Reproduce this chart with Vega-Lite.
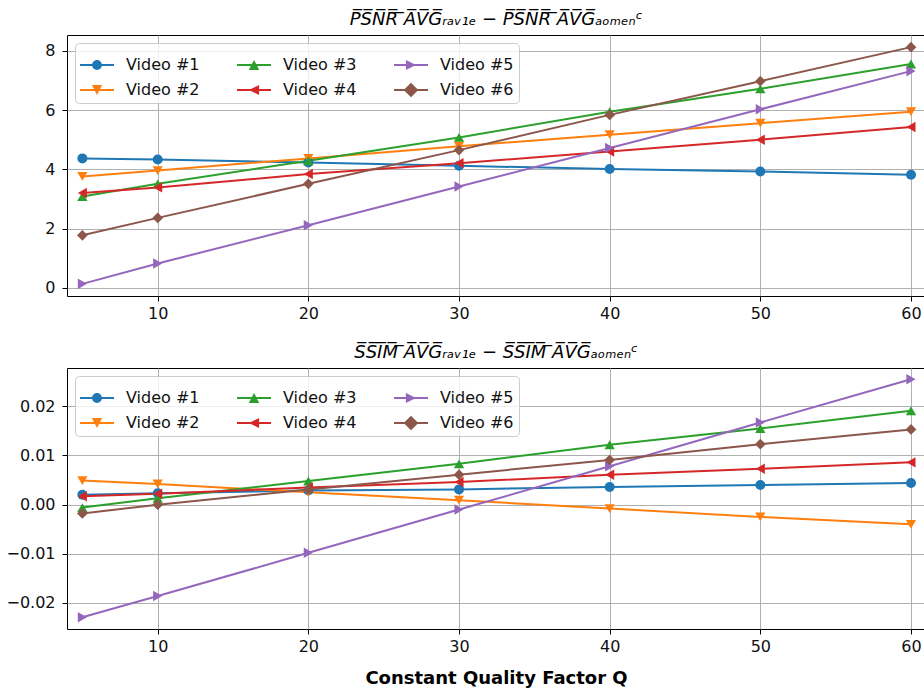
{
  "$schema": "https://vega.github.io/schema/vega-lite/v6.json",
  "background": "white",
  "padding": {"left": 5, "top": 10, "right": 0, "bottom": 0},
  "spacing": 21,
  "config": {
    "view": {"stroke": "#000000", "strokeWidth": 1},
    "axis": {
      "labelFont": "DejaVu Sans", "labelFontSize": 16, "labelColor": "#111111",
      "tickColor": "#000000", "tickSize": 5, "tickWidth": 1, "domain": false,
      "gridColor": "#b0b0b0", "gridWidth": 1, "labelFlush": false, "labelOverlap": false,
      "titleFont": "DejaVu Sans", "titleFontSize": 18, "titleFontWeight": "bold", "titleColor": "#000000"
    },
    "legend": {
      "orient": "top-left", "offset": 8, "columns": 3, "title": null,
      "labelFont": "DejaVu Sans", "labelFontSize": 16, "labelColor": "#111111",
      "symbolSize": 1156, "symbolStrokeWidth": 0, "labelOffset": 12,
      "columnPadding": 37, "rowPadding": 0, "padding": 5,
      "fillColor": "rgba(255,255,255,0.8)", "strokeColor": "#cccccc", "cornerRadius": 4
    },
    "title": {"font": "DejaVu Sans", "fontSize": 18, "fontStyle": "italic", "fontWeight": "normal", "color": "#000000", "frame": "group", "anchor": "middle", "baseline": "alphabetic", "offset": 6}
  },
  "data": {"values": [
    {"q": 5, "video": "Video #1", "psnr": 4.37, "ssim": 0.0020},
    {"q": 10, "video": "Video #1", "psnr": 4.33, "ssim": 0.0023},
    {"q": 20, "video": "Video #1", "psnr": 4.23, "ssim": 0.0029},
    {"q": 30, "video": "Video #1", "psnr": 4.12, "ssim": 0.0031},
    {"q": 40, "video": "Video #1", "psnr": 4.01, "ssim": 0.0036},
    {"q": 50, "video": "Video #1", "psnr": 3.93, "ssim": 0.0040},
    {"q": 60, "video": "Video #1", "psnr": 3.82, "ssim": 0.0044},
    {"q": 5, "video": "Video #2", "psnr": 3.76, "ssim": 0.0049},
    {"q": 10, "video": "Video #2", "psnr": 3.96, "ssim": 0.0042},
    {"q": 20, "video": "Video #2", "psnr": 4.37, "ssim": 0.0025},
    {"q": 30, "video": "Video #2", "psnr": 4.78, "ssim": 0.0009},
    {"q": 40, "video": "Video #2", "psnr": 5.17, "ssim": -0.0008},
    {"q": 50, "video": "Video #2", "psnr": 5.56, "ssim": -0.0025},
    {"q": 60, "video": "Video #2", "psnr": 5.95, "ssim": -0.0040},
    {"q": 5, "video": "Video #3", "psnr": 3.08, "ssim": -0.0006},
    {"q": 10, "video": "Video #3", "psnr": 3.51, "ssim": 0.0013},
    {"q": 20, "video": "Video #3", "psnr": 4.29, "ssim": 0.0048},
    {"q": 30, "video": "Video #3", "psnr": 5.08, "ssim": 0.0083},
    {"q": 40, "video": "Video #3", "psnr": 5.95, "ssim": 0.0122},
    {"q": 50, "video": "Video #3", "psnr": 6.72, "ssim": 0.0155},
    {"q": 60, "video": "Video #3", "psnr": 7.56, "ssim": 0.0191},
    {"q": 5, "video": "Video #4", "psnr": 3.20, "ssim": 0.0017},
    {"q": 10, "video": "Video #4", "psnr": 3.39, "ssim": 0.0022},
    {"q": 20, "video": "Video #4", "psnr": 3.84, "ssim": 0.0035},
    {"q": 30, "video": "Video #4", "psnr": 4.21, "ssim": 0.0046},
    {"q": 40, "video": "Video #4", "psnr": 4.60, "ssim": 0.0061},
    {"q": 50, "video": "Video #4", "psnr": 5.00, "ssim": 0.0073},
    {"q": 60, "video": "Video #4", "psnr": 5.43, "ssim": 0.0086},
    {"q": 5, "video": "Video #5", "psnr": 0.13, "ssim": -0.0229},
    {"q": 10, "video": "Video #5", "psnr": 0.82, "ssim": -0.0186},
    {"q": 20, "video": "Video #5", "psnr": 2.11, "ssim": -0.0098},
    {"q": 30, "video": "Video #5", "psnr": 3.42, "ssim": -0.0010},
    {"q": 40, "video": "Video #5", "psnr": 4.72, "ssim": 0.0078},
    {"q": 50, "video": "Video #5", "psnr": 6.03, "ssim": 0.0167},
    {"q": 60, "video": "Video #5", "psnr": 7.32, "ssim": 0.0255},
    {"q": 5, "video": "Video #6", "psnr": 1.77, "ssim": -0.0018},
    {"q": 10, "video": "Video #6", "psnr": 2.36, "ssim": 0.0000},
    {"q": 20, "video": "Video #6", "psnr": 3.51, "ssim": 0.0031},
    {"q": 30, "video": "Video #6", "psnr": 4.65, "ssim": 0.0061},
    {"q": 40, "video": "Video #6", "psnr": 5.84, "ssim": 0.0091},
    {"q": 50, "video": "Video #6", "psnr": 6.98, "ssim": 0.0123},
    {"q": 60, "video": "Video #6", "psnr": 8.13, "ssim": 0.0153}
  ]},
  "vconcat": [
    {
      "width": 858, "height": 261,
      "title": {"text": "P\u0305S\u0305N\u0305R\u0305 \u0305A\u0305V\u0305G\u0305\u1d63\u2090\u1d65\u2081\u2091 \u2212 P\u0305S\u0305N\u0305R\u0305 \u0305A\u0305V\u0305G\u0305\u2090\u2092\u2098\u2091\u2099\u1d9c"},
      "resolve": {"scale": {"color": "independent", "shape": "independent", "size": "independent"}},
      "layer": [
        {
          "mark": {"type": "line", "strokeWidth": 2, "clip": true},
          "encoding": {
            "x": {"field": "q", "type": "quantitative", "scale": {"domain": [3.98, 60.93], "nice": false, "zero": false}, "axis": {"title": null, "values": [10, 20, 30, 40, 50, 60], "labelPadding": 4}},
            "y": {"field": "psnr", "type": "quantitative", "scale": {"domain": [-0.28, 8.54], "nice": false, "zero": false}, "axis": {"title": null, "values": [0, 2, 4, 6, 8], "format": "d", "labelPadding": 7}},
            "color": {"field": "video", "type": "nominal", "scale": {"domain": ["Video #1", "Video #2", "Video #3", "Video #4", "Video #5", "Video #6"], "range": ["#1f77b4", "#ff7f0e", "#2ca02c", "#d62728", "#9467bd", "#8c564b"]}, "legend": null}
          }
        },
        {
          "mark": {"type": "point", "filled": true, "opacity": 1, "clip": true},
          "encoding": {
            "x": {"field": "q", "type": "quantitative"},
            "y": {"field": "psnr", "type": "quantitative"},
            "color": {"field": "video", "type": "nominal", "scale": {"domain": ["Video #1", "Video #2", "Video #3", "Video #4", "Video #5", "Video #6"], "range": ["#1f77b4", "#ff7f0e", "#2ca02c", "#d62728", "#9467bd", "#8c564b"]}, "legend": null},
            "shape": {"field": "video", "type": "nominal", "scale": {"domain": ["Video #1", "Video #2", "Video #3", "Video #4", "Video #5", "Video #6"], "range": ["circle", "triangle-down", "triangle-up", "triangle-left", "triangle-right", "diamond"]}, "legend": null},
            "size": {"field": "video", "type": "nominal", "scale": {"domain": ["Video #1", "Video #2", "Video #3", "Video #4", "Video #5", "Video #6"], "range": [100, 115, 115, 115, 115, 210]}, "legend": null}
          }
        },
        {
          "transform": [{"filter": "datum.q < 0"}],
          "mark": {"type": "point", "filled": true, "opacity": 1},
          "encoding": {
            "x": {"field": "q", "type": "quantitative"},
            "y": {"field": "psnr", "type": "quantitative"},
            "color": {"field": "video", "type": "nominal", "scale": {"domain": ["Video #1", "Video #2", "Video #3", "Video #4", "Video #5", "Video #6"], "range": ["#1f77b4", "#ff7f0e", "#2ca02c", "#d62728", "#9467bd", "#8c564b"]}, "legend": {"title": null}},
            "shape": {"field": "video", "type": "nominal", "scale": {"domain": ["Video #1", "Video #2", "Video #3", "Video #4", "Video #5", "Video #6"], "range": [
              "M-1,-0.06H1V0.06H-1ZM-0.29,0A0.29,0.29 0 1,1 0.29,0A0.29,0.29 0 1,1 -0.29,0Z",
              "M-1,-0.06H1V0.06H-1ZM-0.3,-0.3L0.3,-0.3L0,0.3Z",
              "M-1,-0.06H1V0.06H-1ZM0,-0.3L0.31,0.3L-0.31,0.3Z",
              "M-1,-0.06H1V0.06H-1ZM-0.3,0L0.3,-0.3L0.3,0.3Z",
              "M-1,-0.06H1V0.06H-1ZM-0.3,-0.3L0.3,0L-0.3,0.3Z",
              "M-1,-0.06H1V0.06H-1ZM0,-0.43L0.43,0L0,0.43L-0.43,0Z"
            ]}, "legend": {"title": null}}
          }
        }
      ]
    },
    {
      "width": 858, "height": 261,
      "title": {"text": "S\u0305S\u0305I\u0305M\u0305 \u0305A\u0305V\u0305G\u0305\u1d63\u2090\u1d65\u2081\u2091 \u2212 S\u0305S\u0305I\u0305M\u0305 \u0305A\u0305V\u0305G\u0305\u2090\u2092\u2098\u2091\u2099\u1d9c"},
      "resolve": {"scale": {"color": "independent", "shape": "independent", "size": "independent"}},
      "layer": [
        {
          "mark": {"type": "line", "strokeWidth": 2, "clip": true},
          "encoding": {
            "x": {"field": "q", "type": "quantitative", "scale": {"domain": [3.98, 60.93], "nice": false, "zero": false}, "axis": {"title": "Constant Quality Factor Q", "values": [10, 20, 30, 40, 50, 60], "labelPadding": 4, "titlePadding": 15}},
            "y": {"field": "ssim", "type": "quantitative", "scale": {"domain": [-0.0253, 0.0278], "nice": false, "zero": false}, "axis": {"title": null, "values": [-0.02, -0.01, 0, 0.01, 0.02], "format": ".2f", "labelPadding": 7}},
            "color": {"field": "video", "type": "nominal", "scale": {"domain": ["Video #1", "Video #2", "Video #3", "Video #4", "Video #5", "Video #6"], "range": ["#1f77b4", "#ff7f0e", "#2ca02c", "#d62728", "#9467bd", "#8c564b"]}, "legend": null}
          }
        },
        {
          "mark": {"type": "point", "filled": true, "opacity": 1, "clip": true},
          "encoding": {
            "x": {"field": "q", "type": "quantitative"},
            "y": {"field": "ssim", "type": "quantitative"},
            "color": {"field": "video", "type": "nominal", "scale": {"domain": ["Video #1", "Video #2", "Video #3", "Video #4", "Video #5", "Video #6"], "range": ["#1f77b4", "#ff7f0e", "#2ca02c", "#d62728", "#9467bd", "#8c564b"]}, "legend": null},
            "shape": {"field": "video", "type": "nominal", "scale": {"domain": ["Video #1", "Video #2", "Video #3", "Video #4", "Video #5", "Video #6"], "range": ["circle", "triangle-down", "triangle-up", "triangle-left", "triangle-right", "diamond"]}, "legend": null},
            "size": {"field": "video", "type": "nominal", "scale": {"domain": ["Video #1", "Video #2", "Video #3", "Video #4", "Video #5", "Video #6"], "range": [100, 115, 115, 115, 115, 210]}, "legend": null}
          }
        },
        {
          "transform": [{"filter": "datum.q < 0"}],
          "mark": {"type": "point", "filled": true, "opacity": 1},
          "encoding": {
            "x": {"field": "q", "type": "quantitative"},
            "y": {"field": "ssim", "type": "quantitative"},
            "color": {"field": "video", "type": "nominal", "scale": {"domain": ["Video #1", "Video #2", "Video #3", "Video #4", "Video #5", "Video #6"], "range": ["#1f77b4", "#ff7f0e", "#2ca02c", "#d62728", "#9467bd", "#8c564b"]}, "legend": {"title": null}},
            "shape": {"field": "video", "type": "nominal", "scale": {"domain": ["Video #1", "Video #2", "Video #3", "Video #4", "Video #5", "Video #6"], "range": [
              "M-1,-0.06H1V0.06H-1ZM-0.29,0A0.29,0.29 0 1,1 0.29,0A0.29,0.29 0 1,1 -0.29,0Z",
              "M-1,-0.06H1V0.06H-1ZM-0.3,-0.3L0.3,-0.3L0,0.3Z",
              "M-1,-0.06H1V0.06H-1ZM0,-0.3L0.31,0.3L-0.31,0.3Z",
              "M-1,-0.06H1V0.06H-1ZM-0.3,0L0.3,-0.3L0.3,0.3Z",
              "M-1,-0.06H1V0.06H-1ZM-0.3,-0.3L0.3,0L-0.3,0.3Z",
              "M-1,-0.06H1V0.06H-1ZM0,-0.43L0.43,0L0,0.43L-0.43,0Z"
            ]}, "legend": {"title": null}}
          }
        }
      ]
    }
  ]
}
